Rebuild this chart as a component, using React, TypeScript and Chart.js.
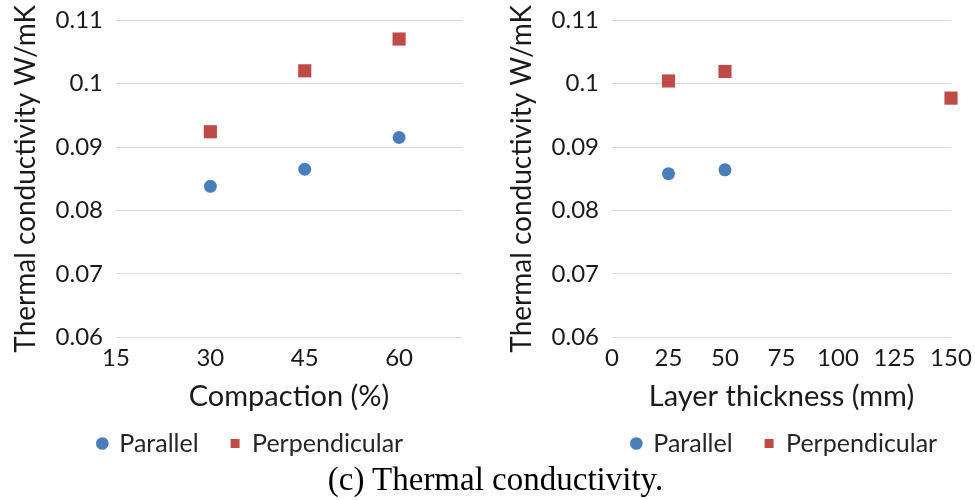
import React, { useEffect, useRef } from "react";
import { Chart, registerables } from "chart.js";

Chart.register(...registerables);

// ---- data ----
const compactionX = [30, 45, 60];
const compactionParallel = [0.0838, 0.0865, 0.0915];
const compactionPerpendicular = [0.0924, 0.102, 0.107];

const thicknessParallelX = [25, 50];
const thicknessParallel = [0.0858, 0.0864];
const thicknessPerpX = [25, 50, 150];
const thicknessPerpendicular = [0.1004, 0.1019, 0.0977];

const yMin = 0.06;
const yMax = 0.11;
const yStep = 0.01;

const seriesNames = ["Parallel", "Perpendicular"];
const yTitle = "Thermal conductivity W/mK";
const leftXTitle = "Compaction (%)";
const rightXTitle = "Layer thickness (mm)";
const caption = "(c) Thermal conductivity.";

const BLUE = "#4A7EBB";
const RED = "#BE4B48";
const FONT = "Lato";

function toPoints(xs: number[], ys: number[]) {
  return xs.map((x, i) => ({ x, y: ys[i] }));
}

function makeConfig(opts: {
  par: { x: number; y: number }[];
  perp: { x: number; y: number }[];
  xMin: number;
  xMax: number;
  xStep: number;
  xTitle: string;
  rightReserve: number;
}): any {
  return {
    type: "scatter",
    data: {
      datasets: [
        {
          label: seriesNames[0],
          data: opts.par,
          pointStyle: "circle",
          pointRadius: 6.5,
          pointHoverRadius: 6.5,
          backgroundColor: BLUE,
          borderColor: BLUE,
          borderWidth: 0,
          clip: false,
        },
        {
          label: seriesNames[1],
          data: opts.perp,
          pointStyle: "rect",
          pointRadius: 9.3,
          pointHoverRadius: 9.3,
          backgroundColor: RED,
          borderColor: RED,
          borderWidth: 0,
          clip: false,
        },
      ],
    },
    options: {
      animation: false,
      responsive: false,
      maintainAspectRatio: false,
      layout: { padding: { top: 20, left: 0, right: 0, bottom: 0 } },
      plugins: {
        tooltip: { enabled: false },
        legend: {
          position: "bottom",
          labels: {
            usePointStyle: true,
            boxWidth: 9,
            boxHeight: 9,
            padding: 32,
            color: "#262626",
            font: { family: FONT, size: 25 },
          },
        },
      },
      scales: {
        x: {
          type: "linear",
          min: opts.xMin,
          max: opts.xMax,
          grid: { display: false, drawTicks: false },
          border: { display: false },
          ticks: {
            stepSize: opts.xStep,
            includeBounds: false,
            padding: 6,
            color: "#1a1a1a",
            font: { family: FONT, size: 24 },
            maxRotation: 0,
            autoSkip: false,
          },
          title: {
            display: true,
            text: opts.xTitle,
            color: "#1a1a1a",
            font: { family: FONT, size: 29 },
            padding: { top: 0, bottom: -15 },
          },
          afterFit: (s: any) => {
            s.height = 61.5;
          },
        },
        y: {
          type: "linear",
          position: "left",
          min: yMin,
          max: yMax,
          grid: {
            color: "#d9d9d9",
            lineWidth: 1,
            drawTicks: true,
            tickLength: 13,
            tickColor: "rgba(0,0,0,0)",
          },
          border: { display: false },
          ticks: {
            stepSize: yStep,
            padding: 0,
            color: "#1a1a1a",
            font: { family: FONT, size: 24 },
            callback: (v: number) => String(Number(v.toFixed(2))),
          },
          title: {
            display: true,
            text: yTitle,
            color: "#1a1a1a",
            font: { family: FONT, size: 28 },
            padding: { top: 9, bottom: 0 },
          },
          afterFit: (s: any) => {
            s.width = 116;
          },
        },
        reserve: {
          type: "linear",
          position: "right",
          display: true,
          grid: { display: false, drawTicks: false },
          border: { display: false },
          ticks: { display: false },
          afterFit: (s: any) => {
            s.width = opts.rightReserve;
          },
        },
      },
    },
  };
}

function ChartCanvas({ config, style, width, height }: any) {
  const ref = useRef<HTMLCanvasElement>(null);
  useEffect(() => {
    const chart = new Chart(ref.current!, config());
    return () => chart.destroy();
  }, []);
  return <canvas ref={ref} width={width} height={height} style={{ position: "absolute", ...style, width, height }} />;
}

export default function App() {
  const leftCfg = () =>
    makeConfig({
      par: toPoints(compactionX, compactionParallel),
      perp: toPoints(compactionX, compactionPerpendicular),
      xMin: 15,
      xMax: 70,
      xStep: 15,
      xTitle: leftXTitle,
      rightReserve: 39,
    });
  const rightCfg = () =>
    makeConfig({
      par: toPoints(thicknessParallelX, thicknessParallel),
      perp: toPoints(thicknessPerpX, thicknessPerpendicular),
      xMin: 0,
      xMax: 150,
      xStep: 25,
      xTitle: rightXTitle,
      rightReserve: 122,
    });
  return (
    <div
      style={{
        position: "fixed",
        left: 0,
        top: 0,
        width: 975,
        height: 500,
        overflow: "hidden",
        background: "#ffffff",
      }}
    >
      <ChartCanvas config={leftCfg} width={501} height={466} style={{ left: 0, top: 0 }} />
      <ChartCanvas config={rightCfg} width={577} height={466} style={{ left: 496, top: 0 }} />
      <div
        style={{
          position: "absolute",
          left: 8,
          top: 463,
          width: 975,
          textAlign: "center",
          fontFamily: '"Liberation Serif", "Times New Roman", serif',
          fontSize: 33,
          lineHeight: "33px",
          color: "#000",
        }}
      >
        {caption}
      </div>
    </div>
  );
}
